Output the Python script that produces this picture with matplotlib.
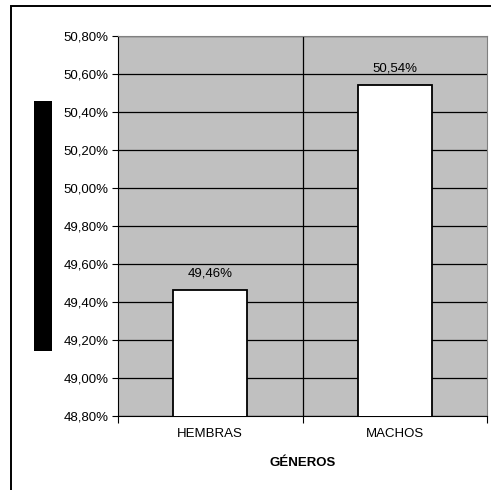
import matplotlib
matplotlib.use("Agg")
import matplotlib.pyplot as plt
from matplotlib.patches import Rectangle

plt.rcParams['font.family'] = ['Liberation Sans', 'DejaVu Sans']

categories = ["HEMBRAS", "MACHOS"]
values = [49.46, 50.54]
y_ticks = [48.8, 49.0, 49.2, 49.4, 49.6, 49.8, 50.0, 50.2, 50.4, 50.6, 50.8]
x_title = "GÉNEROS"

W, H = 491, 490
fig = plt.figure(figsize=(W / 100, H / 100), dpi=100)

# outer chart frame (extends past the right and bottom edges)
fig.add_artist(Rectangle((11 / W, -0.1), 1.2, 1 - 6 / H + 0.1, transform=fig.transFigure,
                         fill=False, edgecolor='black', linewidth=1.4))
# solid block standing in for the vertical axis title
fig.add_artist(Rectangle((34 / W, 1 - 351 / H), 18 / W, 250 / H, transform=fig.transFigure,
                         facecolor='black', edgecolor='none'))

left, right, top, bottom = 118, 487, 36, 415.7
ax = fig.add_axes([left / W, 1 - bottom / H, (right - left) / W, (bottom - top) / H])
ax.set_facecolor('#C0C0C0')

x = list(range(len(categories)))
ax.bar(x, values, width=0.4, bottom=0, color='white', edgecolor='black', linewidth=1.3, zorder=3)

ax.set_xlim(-0.5, len(categories) - 0.5)
ax.set_ylim(y_ticks[0], y_ticks[-1])

ax.set_yticks(y_ticks)
ax.set_yticklabels([f"{t:.2f}%".replace('.', ',') for t in y_ticks], fontsize=9.5)
ax.yaxis.grid(True, color='black', linewidth=0.9, zorder=1)
ax.axvline(0.5, color='black', linewidth=0.9, zorder=1)

ax.set_xticks([-0.5, 0.5, 1.5])
ax.set_xticklabels([])
ax.set_xticks(x, minor=True)
ax.set_xticklabels(categories, minor=True, fontsize=9.5)
ax.tick_params(axis='x', which='minor', length=0, pad=9)
ax.tick_params(axis='x', which='major', length=5, direction='out', color='black')
ax.tick_params(axis='y', length=4, direction='out', color='black', pad=3)

for side in ['top', 'right']:
    ax.spines[side].set_color('#808080')
ax.spines['left'].set_color('black')
ax.spines['bottom'].set_color('black')

for xi, v in zip(x, values):
    ax.annotate(f"{v:.2f}%".replace('.', ','), (xi, v), xytext=(0, 8),
                textcoords='offset points', ha='center', va='bottom', fontsize=9.5)

ax.set_xlabel(x_title, fontsize=9.5, fontweight='bold', labelpad=12)

fig.savefig("out.png", dpi=100)
